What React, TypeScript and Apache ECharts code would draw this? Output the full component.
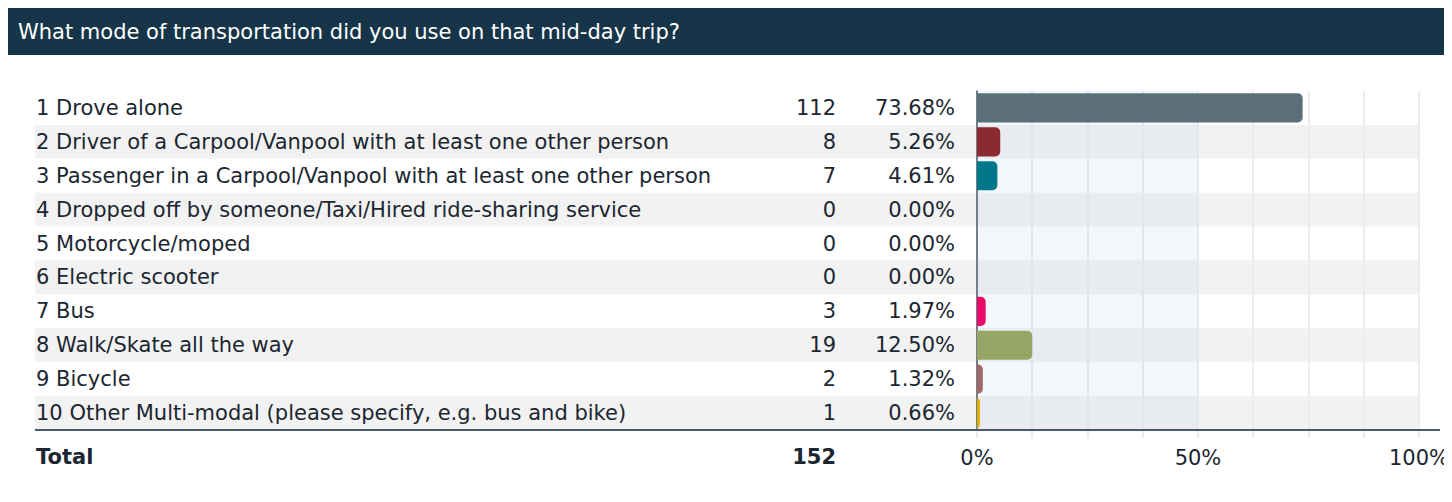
import React, { useEffect, useRef } from "react";
import * as echarts from "echarts";

const title = "What mode of transportation did you use on that mid-day trip?";
const categories = [
  "1 Drove alone",
  "2 Driver of a Carpool/Vanpool with at least one other person",
  "3 Passenger in a Carpool/Vanpool with at least one other person",
  "4 Dropped off by someone/Taxi/Hired ride-sharing service",
  "5 Motorcycle/moped",
  "6 Electric scooter",
  "7 Bus",
  "8 Walk/Skate all the way",
  "9 Bicycle",
  "10 Other Multi-modal (please specify, e.g. bus and bike)",
];
const counts = [112, 8, 7, 0, 0, 0, 3, 19, 2, 1];
const percents = [73.68, 5.26, 4.61, 0.0, 0.0, 0.0, 1.97, 12.5, 1.32, 0.66];
const total = 152;
const barColors = ["#5b6f7a", "#8b2a30", "#00788a", "#7a6a9a", "#c07030", "#4a8a5a", "#ea0a6a", "#96a566", "#a06868", "#e0b000"];
const tickLabels = ["0%", "50%", "100%"];

const FONT = '"DejaVu Sans", "Liberation Sans", Arial, sans-serif';
const FS = 21;
const TEXT = "#1b2631";

export default function App() {
  const ref = useRef<HTMLDivElement>(null);
  useEffect(() => {
    const chart = echarts.init(ref.current!, null, { renderer: "svg" });
    const option: any = {
      animation: false,
      textStyle: { fontFamily: FONT },
      graphic: [
        { type: "rect", shape: { x: 8, y: 8, width: 1444, height: 47 }, style: { fill: "#163549" }, z: 10 },
        { type: "line", shape: { x1: 7, y1: 7, x2: 1452, y2: 7 }, style: { stroke: "#6e6766", lineWidth: 2 }, z: 10 },
        { type: "line", shape: { x1: 7, y1: 7, x2: 7, y2: 502 }, style: { stroke: "#6e6766", lineWidth: 2 }, z: 10 },
        { type: "text", x: 18, y: 32, style: { text: title, fill: "#ffffff", font: `${FS}px ${FONT}`, textVerticalAlign: "middle" }, z: 11 },
        { type: "line", shape: { x1: 35, y1: 430, x2: 1440, y2: 430 }, style: { stroke: "#4b5a6b", lineWidth: 2 }, z: 10 },
        { type: "text", x: 36, y: 457, style: { text: "Total", fill: TEXT, font: `bold ${FS}px ${FONT}`, textVerticalAlign: "middle" }, z: 10 },
        { type: "text", x: 836, y: 457, style: { text: String(total), fill: TEXT, font: `bold ${FS}px ${FONT}`, textAlign: "right", textVerticalAlign: "middle" }, z: 10 },
      ],
      grid: [
        { left: 35, right: 32, top: 91, bottom: 72 },
        { left: 977, right: 33, top: 91, bottom: 72 },
      ],
      xAxis: [
        { gridIndex: 0, type: "value", show: false, min: 0, max: 1 },
        {
          gridIndex: 1,
          type: "value",
          min: 0,
          max: 100,
          interval: 12.5,
          z: 1,
          axisLine: { show: false },
          axisTick: { show: true, length: 8, lineStyle: { color: "#ebebf0", width: 2 } },
          splitLine: { show: true, lineStyle: { color: "#ebebf0", width: 2 } },
          axisLabel: {
            margin: 17,
            fontSize: FS,
            color: TEXT,
            fontFamily: FONT,
            formatter: (v: number) => (v % 50 === 0 ? tickLabels[v / 50] : ""),
          },
        },
      ],
      yAxis: [
        {
          gridIndex: 0,
          type: "category",
          data: categories,
          inverse: true,
          z: 0,
          axisLine: { show: false },
          axisTick: { show: false },
          axisLabel: { show: false },
          splitArea: { show: true, areaStyle: { color: ["#ffffff", "#f2f2f2"] } },
        },
        {
          gridIndex: 1,
          type: "category",
          data: categories,
          inverse: true,
          z: 2,
          axisLine: { show: true, lineStyle: { color: "#4d5b6b", width: 1.5 } },
          axisTick: { show: false },
          axisLabel: {
            margin: 22,
            formatter: (value: string, idx: number) =>
              `{a|${value}}{b|${counts[idx]}}{c|${percents[idx].toFixed(2)}%}`,
            rich: {
              a: { width: 740, align: "left", fontSize: FS, color: TEXT, fontFamily: FONT },
              b: { width: 60, align: "right", fontSize: FS, color: TEXT, fontFamily: FONT },
              c: { width: 119, align: "right", fontSize: FS, color: TEXT, fontFamily: FONT },
            },
          },
        },
      ],
      series: [
        {
          type: "bar",
          xAxisIndex: 1,
          yAxisIndex: 1,
          barWidth: "86%",
          data: percents.map((p, i) => ({ value: p, itemStyle: { color: barColors[i], borderRadius: [0, 5, 5, 0] } })),
          markArea: {
            silent: true,
            itemStyle: { color: "rgba(177,197,229,0.154)" },
            data: [[{ xAxis: 0 }, { xAxis: 50 }]],
          },
        },
      ],
    };
    chart.setOption(option);
    return () => chart.dispose();
  }, []);
  return <div ref={ref} style={{ width: 1452, height: 502, margin: -8 }} />;
}
